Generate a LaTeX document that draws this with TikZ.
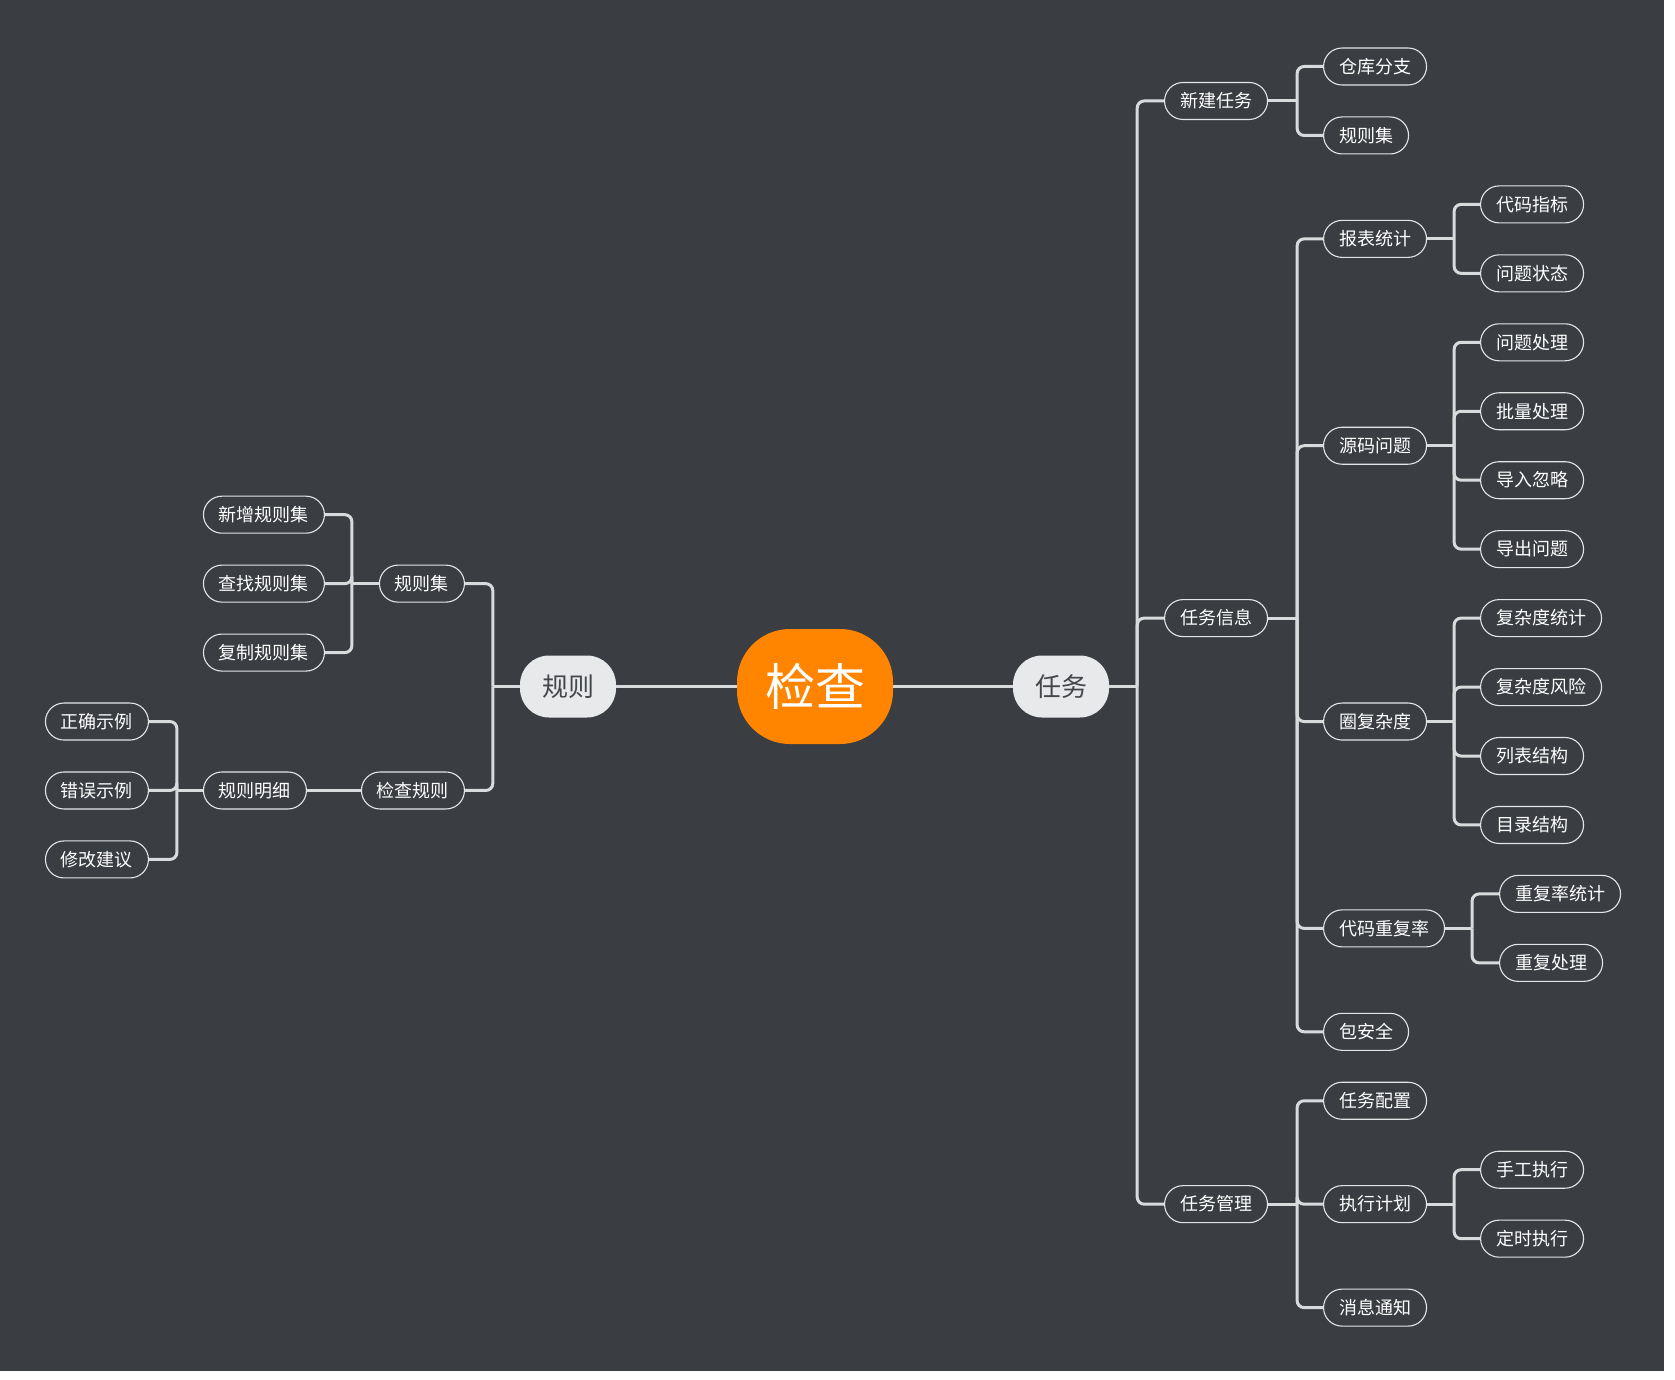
\documentclass[tikz,border=0pt]{standalone}
\usepackage{fontspec}
\newfontfamily\cjk{Noto Sans CJK SC}
\definecolor{bgc}{HTML}{3A3D42}
\definecolor{linec}{HTML}{D9DADC}
\definecolor{borderc}{HTML}{E4E5E7}
\definecolor{mainc}{HTML}{FF8500}
\definecolor{subfill}{HTML}{E8E9EB}
\definecolor{subtext}{HTML}{43464B}
\newcommand\ry[1]{66.5+68.95*#1}
\begin{document}
\begin{tikzpicture}[x=1pt,y=-1pt,
  leaf/.style={draw=borderc, line width=1.1pt, fill=bgc, text=white, rounded corners=18.5pt,
    minimum height=37pt, inner xsep=15.5pt, inner ysep=0pt, text height=15.3pt, text depth=1.8pt,
    font=\cjk\fontsize{18pt}{20pt}\selectfont},
  sub/.style={fill=subfill, text=subtext, rounded corners=29pt, minimum width=96pt, minimum height=62pt,
    inner sep=0pt, text height=22pt, text depth=2.6pt, font=\cjk\fontsize{26pt}{28pt}\selectfont},
  mainnode/.style={fill=mainc, text=white, rounded corners=53pt, minimum width=156pt, minimum height=115pt,
    inner sep=0pt, text height=42.5pt, text depth=5pt, font=\cjk\fontsize{50pt}{54pt}\selectfont},
  conn/.style={draw=linec, line width=3pt},
  rc/.style={conn, rounded corners=7pt}
]
\useasboundingbox (0,0) rectangle (1675,1380);
\fill[white] (0,0) rectangle (1675,1380);
\fill[bgc] (0,0) rectangle (1664,1371);

% central
\node[mainnode] (jc) at (815,686.5) {检查};
\node[sub] (rw) at (1061,686.5) {任务};
\node[sub] (gz) at (568,686.5) {规则};

% right level 1
\node[leaf, anchor=west] (xjrw) at (1164,{\ry{0.5}}) {新建任务};
\node[leaf, anchor=west] (rwxx) at (1164,{\ry{8}}) {任务信息};
\node[leaf, anchor=west] (rwgl) at (1164,{\ry{16.5}}) {任务管理};

% right level 2
\node[leaf, anchor=west] (ckfz) at (1323,{\ry{0}}) {仓库分支};
\node[leaf, anchor=west] (gzjr) at (1323,{\ry{1}}) {规则集};
\node[leaf, anchor=west] (bbtj) at (1323,{\ry{2.5}}) {报表统计};
\node[leaf, anchor=west] (ymwt) at (1323,{\ry{5.5}}) {源码问题};
\node[leaf, anchor=west] (qfzd) at (1323,{\ry{9.5}}) {圈复杂度};
\node[leaf, anchor=west] (dmcf) at (1323,{\ry{12.5}}) {代码重复率};
\node[leaf, anchor=west] (baq) at (1323,{\ry{14}}) {包安全};
\node[leaf, anchor=west] (rwpz) at (1323,{\ry{15}}) {任务配置};
\node[leaf, anchor=west] (zxjh) at (1323,{\ry{16.5}}) {执行计划};
\node[leaf, anchor=west] (xxtz) at (1323,{\ry{18}}) {消息通知};

% right level 3
\node[leaf, anchor=west] (dmzb) at (1480,{\ry{2}}) {代码指标};
\node[leaf, anchor=west] (wtzt) at (1480,{\ry{3}}) {问题状态};
\node[leaf, anchor=west] (wtcl) at (1480,{\ry{4}}) {问题处理};
\node[leaf, anchor=west] (plcl) at (1480,{\ry{5}}) {批量处理};
\node[leaf, anchor=west] (drhl) at (1480,{\ry{6}}) {导入忽略};
\node[leaf, anchor=west] (dcwt) at (1480,{\ry{7}}) {导出问题};
\node[leaf, anchor=west] (fztj) at (1480,{\ry{8}}) {复杂度统计};
\node[leaf, anchor=west] (fzfx) at (1480,{\ry{9}}) {复杂度风险};
\node[leaf, anchor=west] (lbjg) at (1480,{\ry{10}}) {列表结构};
\node[leaf, anchor=west] (mljg) at (1480,{\ry{11}}) {目录结构};
\node[leaf, anchor=west] (cftj) at (1499,{\ry{12}}) {重复率统计};
\node[leaf, anchor=west] (cfcl) at (1499,{\ry{13}}) {重复处理};
\node[leaf, anchor=west] (sgzx) at (1480,{\ry{16}}) {手工执行};
\node[leaf, anchor=west] (dszx) at (1480,{\ry{17}}) {定时执行};

% left side
\node[leaf, anchor=east] (gzjl) at (465,{\ry{7.5}}) {规则集};
\node[leaf, anchor=east] (jcgz) at (465,{\ry{10.5}}) {检查规则};
\node[leaf, anchor=east] (xzgz) at (325,{\ry{6.5}}) {新增规则集};
\node[leaf, anchor=east] (czgz) at (325,{\ry{7.5}}) {查找规则集};
\node[leaf, anchor=east] (fzgz) at (325,{\ry{8.5}}) {复制规则集};
\node[leaf, anchor=east] (gzmx) at (307,{\ry{10.5}}) {规则明细};
\node[leaf, anchor=east] (zqsl) at (149,{\ry{9.5}}) {正确示例};
\node[leaf, anchor=east] (cwsl) at (149,{\ry{10.5}}) {错误示例};
\node[leaf, anchor=east] (xgjy) at (149,{\ry{11.5}}) {修改建议};

% connectors center
\draw[conn] (gz.east) -- (jc.west);
\draw[conn] (jc.east) -- (rw.west);

% right connectors
\draw[conn] (rw.east) -- ++(28,0) coordinate (s0);
\foreach \c in {xjrw,rwxx,rwgl} \draw[rc] (s0) |- (\c.west);

\draw[conn] (xjrw.east) -- ++(29,0) coordinate (s1);
\foreach \c in {ckfz,gzjr} \draw[rc] (s1) |- (\c.west);

\draw[conn] (rwxx.east) -- ++(29,0) coordinate (s2);
\foreach \c in {bbtj,ymwt,qfzd,dmcf,baq} \draw[rc] (s2) |- (\c.west);

\draw[conn] (rwgl.east) -- ++(29,0) coordinate (s3);
\foreach \c in {rwpz,zxjh,xxtz} \draw[rc] (s3) |- (\c.west);

\draw[conn] (bbtj.east) -- ++(27,0) coordinate (s4);
\foreach \c in {dmzb,wtzt} \draw[rc] (s4) |- (\c.west);

\draw[conn] (ymwt.east) -- ++(27,0) coordinate (s5);
\foreach \c in {wtcl,plcl,drhl,dcwt} \draw[rc] (s5) |- (\c.west);

\draw[conn] (qfzd.east) -- ++(27,0) coordinate (s6);
\foreach \c in {fztj,fzfx,lbjg,mljg} \draw[rc] (s6) |- (\c.west);

\draw[conn] (dmcf.east) -- ++(27,0) coordinate (s7);
\foreach \c in {cftj,cfcl} \draw[rc] (s7) |- (\c.west);

\draw[conn] (zxjh.east) -- ++(27,0) coordinate (s8);
\foreach \c in {sgzx,dszx} \draw[rc] (s8) |- (\c.west);

% left connectors
\draw[conn] (gz.west) -- ++(-27,0) coordinate (t0);
\foreach \c in {gzjl,jcgz} \draw[rc] (t0) |- (\c.east);

\draw[conn] (gzjl.west) -- ++(-27,0) coordinate (t1);
\foreach \c in {xzgz,czgz,fzgz} \draw[rc] (t1) |- (\c.east);

\draw[conn] (jcgz.west) -- (gzmx.east);

\draw[conn] (gzmx.west) -- ++(-26,0) coordinate (t2);
\foreach \c in {zqsl,cwsl,xgjy} \draw[rc] (t2) |- (\c.east);
\end{tikzpicture}
\end{document}
